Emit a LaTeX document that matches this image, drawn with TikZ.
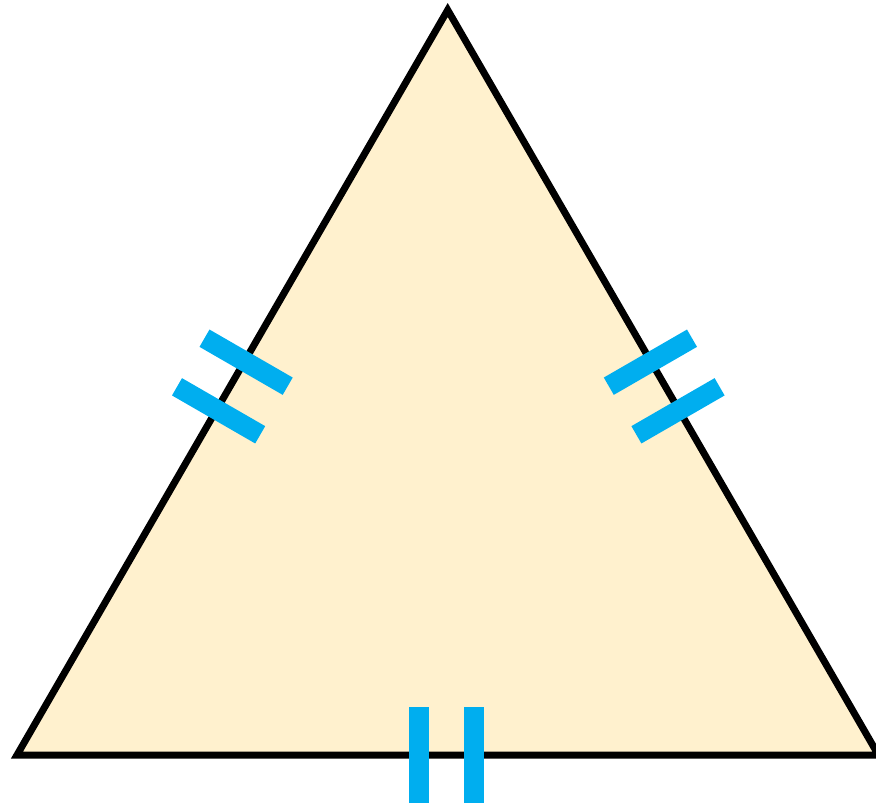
\documentclass[tikz,border=0pt]{standalone}
\definecolor{trifill}{HTML}{FFF1CE}
\definecolor{tickblue}{HTML}{00AEEF}
\begin{document}
\begin{tikzpicture}[x=1pt,y=-1pt,
  tickmark/.style={draw=tickblue, line width=20pt, line cap=butt},
  triside/.style={fill=trifill, draw=black, line width=7pt, line join=miter}]
\useasboundingbox (0,0) rectangle (876,805);
\coordinate (A) at (447.7,10);
\coordinate (B) at (17,755);
\coordinate (C) at (878.4,755);
\filldraw[triside] (A) -- (B) -- (C) -- cycle;
% left side ticks
\coordinate (l1a) at (204.5,338.2); \coordinate (l1b) at (287.7,386.2);
\coordinate (l2a) at (177.0,386.8); \coordinate (l2b) at (260.2,434.8);
\draw[tickmark] (l1a) -- (l1b);
\draw[tickmark] (l2a) -- (l2b);
% right side ticks
\coordinate (r1a) at (692.0,338.2); \coordinate (r1b) at (608.8,386.2);
\coordinate (r2a) at (719.6,386.8); \coordinate (r2b) at (636.4,434.8);
\draw[tickmark] (r1a) -- (r1b);
\draw[tickmark] (r2a) -- (r2b);
% bottom ticks
\coordinate (b1a) at (419,707); \coordinate (b1b) at (419,803);
\coordinate (b2a) at (474,707); \coordinate (b2b) at (474,803);
\draw[tickmark] (b1a) -- (b1b);
\draw[tickmark] (b2a) -- (b2b);
\end{tikzpicture}
\end{document}
